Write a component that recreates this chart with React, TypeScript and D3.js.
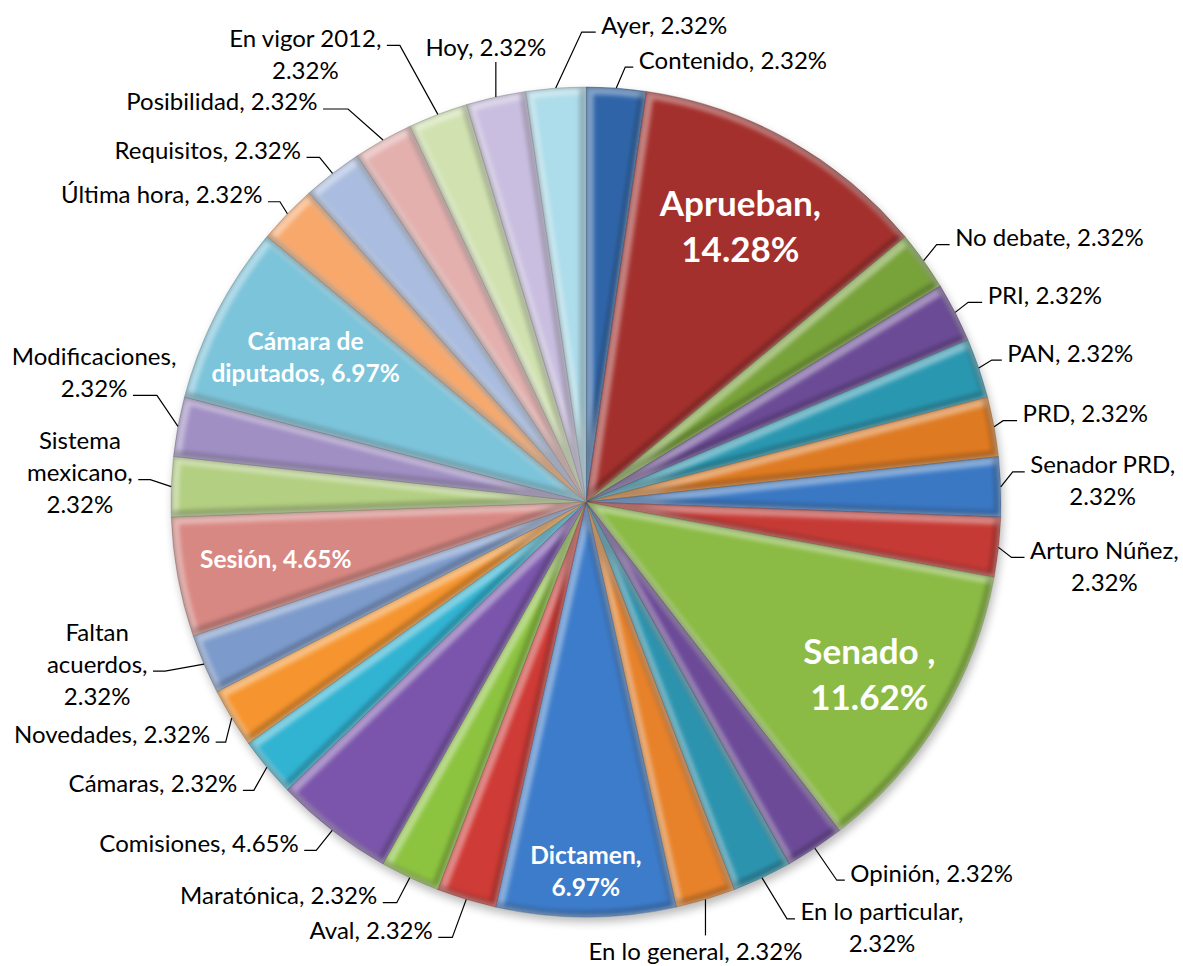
import React, { useRef, useEffect } from 'react';
import * as d3 from 'd3';

// slices clockwise from 12 o'clock
const categories = [
  'Contenido', 'Aprueban', 'No debate', 'PRI', 'PAN', 'PRD', 'Senador PRD',
  'Arturo Núñez', 'Senado ', 'Opinión', 'En lo particular', 'En lo general',
  'Dictamen', 'Aval', 'Maratónica', 'Comisiones', 'Cámaras', 'Novedades',
  'Faltan acuerdos', 'Sesión', 'Sistema mexicano', 'Modificaciones',
  'Cámara de diputados', 'Última hora', 'Requisitos', 'Posibilidad',
  'En vigor 2012', 'Hoy', 'Ayer',
];

// slice sizes as drawn (the "Aprueban" slice is drawn as large as "Senado")
const shares = [
  2.32, 11.62, 2.32, 2.32, 2.32, 2.32, 2.32,
  2.32, 11.62, 2.32, 2.32, 2.32,
  6.97, 2.32, 2.32, 4.65, 2.32, 2.32,
  2.32, 4.65, 2.32, 2.32,
  6.97, 2.32, 2.32, 2.32,
  2.32, 2.32, 2.32,
];

// percentages printed in the labels
const percentLabels = [
  '2.32%', '14.28%', '2.32%', '2.32%', '2.32%', '2.32%', '2.32%',
  '2.32%', '11.62%', '2.32%', '2.32%', '2.32%',
  '6.97%', '2.32%', '2.32%', '4.65%', '2.32%', '2.32%',
  '2.32%', '4.65%', '2.32%', '2.32%',
  '6.97%', '2.32%', '2.32%', '2.32%',
  '2.32%', '2.32%', '2.32%',
];

const colors = [
  '#2f65a8', '#a3302c', '#78a23a', '#6b4b96', '#2a97b0', '#de7a22', '#3a78c4',
  '#c63a35', '#8bbb45', '#6c4a98', '#2c93ae', '#e7822b',
  '#3d7cca', '#cf3b36', '#8cc33f', '#7a55ab', '#31b3d2', '#f6952f',
  '#7c9acb', '#d88883', '#b3cf82', '#a08fc3',
  '#7cc4da', '#f8a86b', '#aabde0', '#e3b0ae',
  '#d1e2b0', '#c9bedf', '#addcea',
];

// label placement: 'in' = inside the slice, L/R = elbow leader, T/B = vertical leader
type Layout = { side: string; dx?: number; dy?: number; h?: number; r?: number; lines?: number[]; attach?: number; big?: boolean };
const labelLayout: Layout[] = [
  { side: 'R', dx: 9, dy: -21, h: 8 },
  { side: 'in', r: 0.76, lines: [1, 1], big: true },
  { side: 'R', dx: 13, dy: -16, h: 13 },
  { side: 'R', dx: 13, dy: -10, h: 14 },
  { side: 'R', dx: 13, dy: -8, h: 10 },
  { side: 'R', dx: 9, dy: -6, h: 14 },
  { side: 'R', dx: 12, dy: -15, h: 12, lines: [2, 1] },
  { side: 'R', dx: 13, dy: 10, h: 13, lines: [2, 1] },
  { side: 'in', r: 0.8, lines: [2, 1], big: true },
  { side: 'R', dx: 22, dy: 32, h: 8 },
  { side: 'R', dx: 25, dy: 41, h: 8, lines: [3, 1] },
  { side: 'B', dy: 36 },
  { side: 'in', r: 0.89, lines: [1, 1] },
  { side: 'L', dx: -14, dy: 38, h: 14 },
  { side: 'L', dx: -13, dy: 25, h: 14 },
  { side: 'L', dx: -16, dy: 20, h: 12 },
  { side: 'L', dx: -13, dy: 23, h: 11 },
  { side: 'L', dx: -6, dy: 24, h: 10 },
  { side: 'L', dx: -39, dy: 7, h: 12, lines: [1, 1, 1], attach: 1 },
  { side: 'in', r: 0.76 },
  { side: 'L', dx: -21, dy: -7, h: 12, lines: [1, 1, 1], attach: 1 },
  { side: 'L', dx: -21, dy: -31, h: 24, lines: [1, 1], attach: 1 },
  { side: 'in', r: 0.76, lines: [2, 2] },
  { side: 'L', dx: -7.5, dy: -12, h: 12 },
  { side: 'L', dx: -13, dy: -16, h: 13 },
  { side: 'L', dx: -35, dy: -31, h: 25 },
  { side: 'L', dx: -38, dy: -69, h: 13, lines: [3, 1] },
  { side: 'T', dy: -35 },
  { side: 'R', dx: 26, dy: -56, h: 14 },
];

const W = 1183;
const H = 966;
const CX = 586;
const CY = 502;
const R = 415;
const FONT = 'Lato, "Open Sans", sans-serif';
const FS = 24;
const FS_IN = 24.5;
const FS_BIG = 35;

const App: React.FC = () => {
  const ref = useRef<SVGSVGElement>(null);

  useEffect(() => {
    const svg = d3.select(ref.current);
    svg.selectAll('*').remove();

    const defs = svg.append('defs');
    defs.append('filter').attr('id', 'soft').attr('x', '-20%').attr('y', '-20%').attr('width', '140%').attr('height', '140%')
      .append('feGaussianBlur').attr('stdDeviation', 2.2);
    defs.append('filter').attr('id', 'pieShadow').attr('x', '-10%').attr('y', '-10%').attr('width', '120%').attr('height', '120%')
      .append('feGaussianBlur').attr('stdDeviation', 5);

    const pie = d3.pie<number>().sort(null).value((d) => d);
    const arcs = pie(shares);
    const arc = d3.arc<d3.PieArcDatum<number>>().innerRadius(0).outerRadius(R);
    const rimArc = d3.arc<d3.PieArcDatum<number>>().innerRadius(R).outerRadius(R);

    const g = svg.append('g').attr('transform', `translate(${CX},${CY})`);

    g.append('circle').attr('cx', 2).attr('cy', 5).attr('r', R)
      .attr('fill', '#000').attr('opacity', 0.28).attr('filter', 'url(#pieShadow)');

    arcs.forEach((d, i) => {
      const p = arc(d) as string;
      const base = colors[i];
      defs.append('clipPath').attr('id', `clip${i}`).append('path').attr('d', p);
      const sg = g.append('g').attr('clip-path', `url(#clip${i})`);
      sg.append('path').attr('d', p).attr('fill', base);
      sg.append('path').attr('d', p).attr('fill', 'none')
        .attr('stroke', '#fff').attr('stroke-opacity', 0.4).attr('stroke-width', 10)
        .attr('transform', 'translate(2.5,2.5)').attr('filter', 'url(#soft)');
      sg.append('path').attr('d', p).attr('fill', 'none')
        .attr('stroke', '#000').attr('stroke-opacity', 0.22).attr('stroke-width', 8)
        .attr('transform', 'translate(-2.5,-2.5)').attr('filter', 'url(#soft)');
      g.append('path').attr('d', p).attr('fill', 'none')
        .attr('stroke', d3.color(base)!.darker(1.2).formatHex()).attr('stroke-opacity', 0.5).attr('stroke-width', 0.8);
    });

    const labels = svg.append('g').attr('font-family', FONT);

    arcs.forEach((d, i) => {
      const lay = labelLayout[i];
      const words = `${categories[i]}, ${percentLabels[i]}`.split(' ');
      const counts = lay.lines || [words.length];
      const lines: string[] = [];
      let k = 0;
      counts.forEach((c) => { lines.push(words.slice(k, k + c).join(' ')); k += c; });

      if (lay.side === 'in') {
        const [mx, my] = d3.arc<d3.PieArcDatum<number>>().innerRadius(R * lay.r!).outerRadius(R * lay.r!).centroid(d);
        const fs = lay.big ? FS_BIG : FS_IN;
        const lh = lay.big ? 46 : 32;
        const y0 = CY + my - ((lines.length - 1) * lh) / 2;
        lines.forEach((t, j) => {
          labels.append('text').attr('x', CX + mx).attr('y', y0 + j * lh).attr('dy', '0.35em')
            .attr('text-anchor', 'middle').attr('font-weight', 'bold').attr('font-size', fs)
            .attr('fill', '#fff').text(t);
        });
        return;
      }

      const [rx, ry] = rimArc.centroid(d);
      const rim: [number, number] = [CX + rx, CY + ry];
      const lineG = labels.append('path').attr('fill', 'none').attr('stroke', '#000').attr('stroke-width', 1.2);

      if (lay.side === 'T' || lay.side === 'B') {
        const end: [number, number] = [rim[0], rim[1] + lay.dy!];
        lineG.attr('d', d3.line()([rim, end]));
        const ty = lay.side === 'T' ? end[1] - 14 : end[1] + 16;
        labels.append('text').attr('x', end[0] - 10).attr('y', ty).attr('dy', '0.35em')
          .attr('text-anchor', 'middle').attr('font-size', FS).attr('fill', '#000').text(lines[0]);
        return;
      }

      const elbow: [number, number] = [rim[0] + lay.dx!, rim[1] + lay.dy!];
      const dir = lay.side === 'R' ? 1 : -1;
      const end: [number, number] = [elbow[0] + dir * lay.h!, elbow[1]];
      lineG.attr('d', d3.line()([rim, elbow, end]));

      const attach = lay.attach || 0;
      const edgeX = end[0] + dir * 5.5;
      const yAttach = end[1] - 7;
      const texts = lines.map((t, j) =>
        labels.append('text').attr('y', yAttach + (j - attach) * 32).attr('dy', '0.35em')
          .attr('font-size', FS).attr('fill', '#000').text(t));
      if (lines.length === 1) {
        texts[0].attr('x', edgeX).attr('text-anchor', dir === 1 ? 'start' : 'end');
      } else {
        const w = (texts[attach].node() as SVGTextElement).getComputedTextLength();
        const c = edgeX + (dir * w) / 2;
        texts.forEach((t) => t.attr('x', c).attr('text-anchor', 'middle'));
      }
    });
  }, []);

  return (
    <svg
      ref={ref}
      width={W}
      height={H}
      viewBox={`0 0 ${W} ${H}`}
      style={{ position: 'absolute', left: 0, top: 0, background: '#fff' }}
    />
  );
};

export default App;
